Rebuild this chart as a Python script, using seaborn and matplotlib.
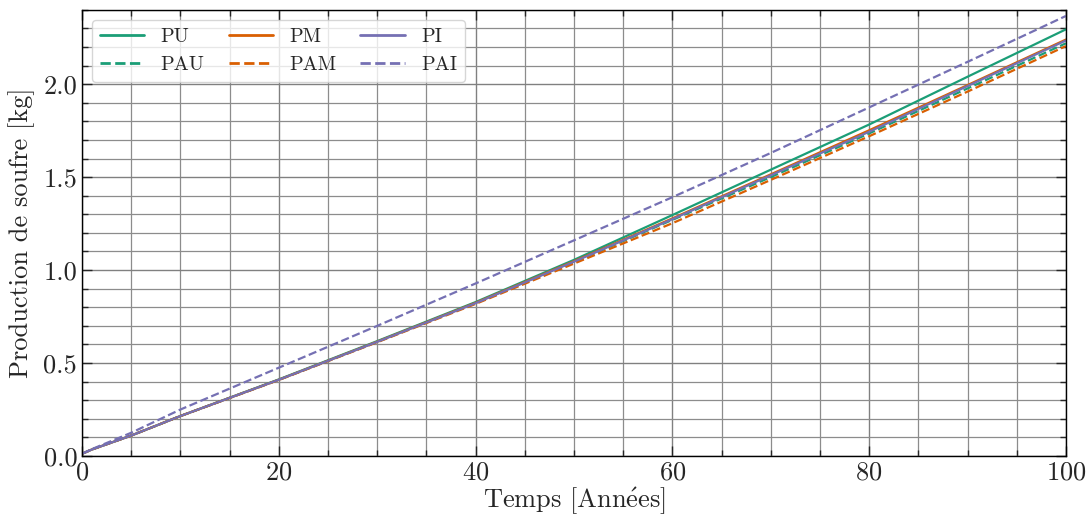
import numpy as np
import pandas as pd
import matplotlib
matplotlib.use("Agg")
import matplotlib.pyplot as plt
from matplotlib.ticker import MultipleLocator
import seaborn as sns

# Production de soufre [kg]
annees = [0, 1, 5, 10, 20, 30, 40, 50, 60, 70, 80, 90, 100]
pu = [0.012, 0.035, 0.110, 0.215, 0.412, 0.618, 0.828, 1.055, 1.296, 1.540, 1.783, 2.040, 2.295]
pau = [0.012, 0.035, 0.110, 0.215, 0.410, 0.614, 0.822, 1.042, 1.270, 1.500, 1.735, 1.977, 2.220]
pm = [0.012, 0.035, 0.110, 0.215, 0.410, 0.615, 0.824, 1.048, 1.278, 1.515, 1.752, 1.995, 2.240]
pam = [0.012, 0.035, 0.110, 0.215, 0.409, 0.612, 0.818, 1.035, 1.252, 1.485, 1.720, 1.960, 2.205]
pi = [0.012, 0.035, 0.110, 0.215, 0.410, 0.614, 0.822, 1.045, 1.274, 1.510, 1.744, 1.990, 2.235]
pai = [0.012, 0.037, 0.125, 0.250, 0.475, 0.700, 0.928, 1.160, 1.392, 1.630, 1.875, 2.120, 2.367]

series = {"PU": pu, "PAU": pau, "PM": pm, "PAM": pam, "PI": pi, "PAI": pai}
order = ["PU", "PAU", "PM", "PAM", "PI", "PAI"]
couleurs = {"PU": "#1b9e77", "PAU": "#1b9e77", "PM": "#d95f02",
            "PAM": "#d95f02", "PI": "#7570b3", "PAI": "#7570b3"}
tirets = {"PU": "", "PAU": (3.7, 1.6), "PM": "", "PAM": (3.7, 1.6), "PI": "", "PAI": (3.7, 1.6)}

df = pd.concat(
    [pd.DataFrame({"Temps": annees, "Production": v, "Serie": k}) for k, v in series.items()],
    ignore_index=True,
)

sns.set_style("ticks")
plt.rcParams["font.family"] = "cmr10"
plt.rcParams["mathtext.fontset"] = "cm"
plt.rcParams["axes.formatter.use_mathtext"] = True
plt.rcParams["axes.unicode_minus"] = False

fig = plt.figure(figsize=(10.91, 5.17), dpi=100)
ax = fig.add_axes([0.0752, 0.118, 0.9018, 0.863])

sns.lineplot(data=df, x="Temps", y="Production", hue="Serie", style="Serie",
             hue_order=order, style_order=order, palette=couleurs, dashes=tirets,
             linewidth=1.6, ax=ax)

ax.set_xlim(0, 100)
ax.set_ylim(0, 2.4)
ax.xaxis.set_major_locator(MultipleLocator(20))
ax.xaxis.set_minor_locator(MultipleLocator(5))
ax.yaxis.set_major_locator(MultipleLocator(0.5))
ax.yaxis.set_minor_locator(MultipleLocator(0.1))
ax.yaxis.set_major_formatter(matplotlib.ticker.FormatStrFormatter("%.1f"))

ax.grid(which="major", color="0.5", linewidth=1.0)
ax.grid(which="minor", color="0.55", linewidth=0.9)
ax.set_axisbelow(True)

ax.tick_params(which="both", direction="in", top=True, right=True, labelsize=19, width=1.0)
ax.tick_params(which="major", length=7)
ax.tick_params(which="minor", length=4)
for s in ax.spines.values():
    s.set_linewidth(1.0)
    s.set_color("black")

ax.set_xlabel(r"Temps [Ann$\mathrm{\acute{e}}$es]", fontsize=19, labelpad=1)
ax.set_ylabel("Production de soufre [kg]", fontsize=19, labelpad=6)

handles, labels = ax.get_legend_handles_labels()
for h in handles:
    h.set_linewidth(2.0)
ax.legend(handles, labels, ncol=3, loc="upper left", fontsize=14.5, frameon=True,
          fancybox=True, framealpha=0.8, edgecolor="0.8", handlelength=2.2,
          columnspacing=1.2, borderaxespad=0.5)

fig.savefig("out.png", dpi=100)
